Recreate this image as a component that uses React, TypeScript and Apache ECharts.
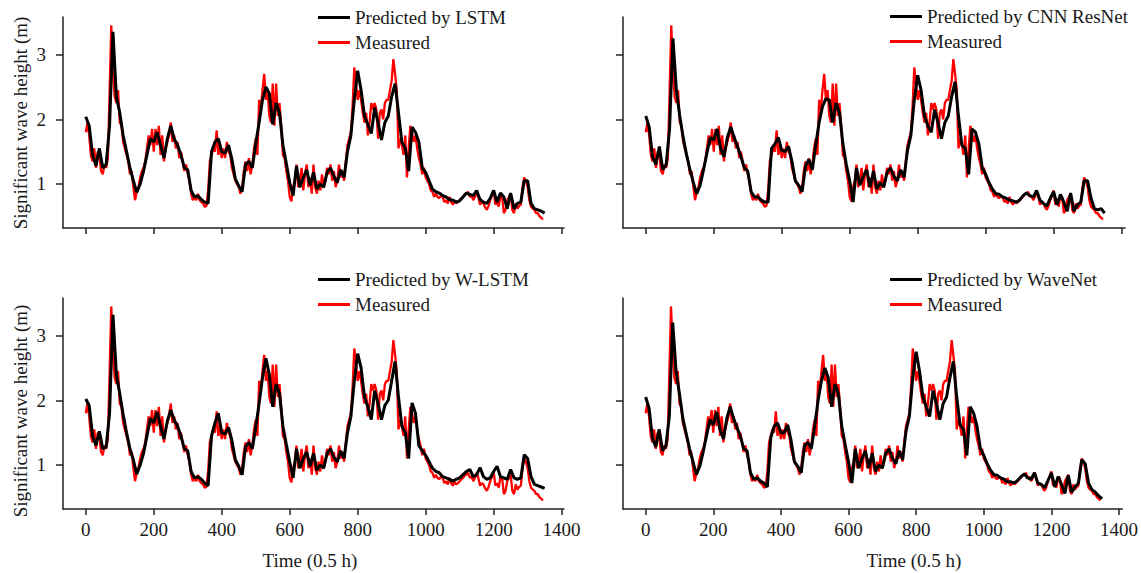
import React, { useEffect, useRef } from "react";
import * as echarts from "echarts";

// Measured significant wave height, sampled every 5 time steps (0.5 h units) from t = 0
const MEASURED_STEP = 5;
const MEASURED = [
  1.80, 1.95, 1.75, 1.45, 1.35, 1.55, 1.25, 1.50, 1.45, 1.20,
  1.15, 1.30, 1.25, 1.40, 2.40, 3.45, 2.80, 2.35, 2.25, 2.45,
  1.95, 1.90, 1.65, 1.55, 1.45, 1.35, 1.15, 1.20, 0.95, 0.75,
  0.88, 0.95, 1.10, 1.20, 1.25, 1.35, 1.55, 1.75, 1.60, 1.85,
  1.50, 1.85, 1.60, 1.90, 1.45, 1.75, 1.35, 1.55, 1.65, 1.75,
  1.95, 1.65, 1.75, 1.55, 1.65, 1.40, 1.50, 1.35, 1.20, 1.30,
  1.15, 1.05, 0.85, 0.75, 0.80, 0.75, 0.85, 0.75, 0.72, 0.70,
  0.65, 0.66, 0.90, 1.35, 1.45, 1.55, 1.50, 1.83, 1.45, 1.60,
  1.40, 1.55, 1.40, 1.65, 1.50, 1.45, 1.25, 1.15, 1.05, 1.00,
  0.95, 0.85, 0.95, 1.20, 1.35, 1.20, 1.40, 1.15, 1.30, 1.55,
  1.70, 1.45, 2.30, 2.15, 2.45, 2.70, 2.30, 2.45, 2.05, 1.95,
  2.55, 1.90, 2.55, 2.05, 2.25, 1.90, 1.45, 1.40, 1.20, 1.05,
  0.80, 0.73, 0.95, 1.05, 1.30, 0.95, 1.05, 1.25, 0.90, 1.15,
  1.30, 0.95, 1.10, 0.85, 1.30, 0.95, 0.85, 1.05, 0.90, 1.15,
  0.95, 1.05, 1.25, 1.15, 1.30, 1.05, 1.20, 0.95, 1.05, 1.30,
  1.10, 1.20, 1.05, 1.35, 1.60, 1.70, 1.80, 2.20, 2.80, 2.55,
  2.30, 2.45, 2.30, 2.10, 1.95, 2.10, 1.75, 1.95, 2.25, 2.15,
  2.25, 2.15, 1.70, 2.10, 2.15, 2.00, 2.25, 2.30, 2.30, 2.45,
  2.60, 2.93, 2.70, 2.45, 1.55, 1.70, 1.60, 1.45, 1.75, 1.10,
  1.55, 1.90, 1.80, 1.65, 1.75, 1.55, 1.40, 1.30, 1.15, 1.25,
  1.10, 1.05, 1.00, 0.90, 0.88, 0.80, 0.85, 0.80, 0.78, 0.82,
  0.80, 0.72, 0.75, 0.70, 0.80, 0.72, 0.68, 0.74, 0.70, 0.72,
  0.75, 0.78, 0.80, 0.84, 0.85, 0.88, 0.80, 0.82, 0.75, 0.80,
  0.88, 0.80, 0.68, 0.72, 0.70, 0.64, 0.60, 0.66, 0.75, 0.82,
  0.90, 0.68, 0.72, 0.65, 0.82, 0.80, 0.55, 0.60, 0.75, 0.80,
  0.85, 0.60, 0.55, 0.70, 0.62, 0.66, 0.68, 0.95, 1.10, 1.05,
  0.95, 0.75, 0.65, 0.62, 0.60, 0.55, 0.55, 0.50, 0.48, 0.45,
];

// Model predictions, sampled every 10 time steps from t = 0
const PRED_STEP = 10;
const LSTM = [
  2.04, 1.90, 1.45, 1.28, 1.55, 1.25, 1.30, 1.90, 3.35, 2.35,
  2.10, 1.75, 1.50, 1.25, 1.05, 0.87, 1.00, 1.20, 1.45, 1.70,
  1.65, 1.80, 1.60, 1.40, 1.70, 1.90, 1.70, 1.60, 1.45, 1.25,
  1.22, 0.90, 0.80, 0.82, 0.76, 0.72, 0.70, 1.50, 1.65, 1.70,
  1.50, 1.48, 1.60, 1.38, 1.08, 0.97, 0.88, 1.30, 1.35, 1.25,
  1.62, 1.95, 2.30, 2.50, 2.40, 1.92, 2.25, 2.10, 1.60, 1.32,
  1.02, 0.82, 1.28, 0.95, 1.10, 1.22, 0.98, 1.18, 0.92, 1.00,
  0.95, 1.18, 1.25, 1.12, 1.02, 1.22, 1.10, 1.50, 1.75, 2.30,
  2.75, 2.45, 2.05, 1.92, 1.78, 2.18, 1.95, 1.68, 1.95, 2.05,
  2.35, 2.55, 2.10, 1.65, 1.55, 1.20, 1.88, 1.80, 1.65, 1.25,
  1.18, 1.05, 0.92, 0.88, 0.86, 0.82, 0.80, 0.76, 0.75, 0.72,
  0.74, 0.80, 0.86, 0.84, 0.82, 0.90, 0.76, 0.72, 0.70, 0.78,
  0.90, 0.72, 0.86, 0.80, 0.62, 0.86, 0.62, 0.70, 0.72, 1.05,
  1.05, 0.70, 0.62, 0.60, 0.58, 0.55,
];
const CNN_RESNET = [
  2.05, 1.88, 1.42, 1.30, 1.58, 1.22, 1.30, 1.85, 3.25, 2.45,
  2.05, 1.72, 1.45, 1.22, 1.02, 0.85, 0.98, 1.22, 1.48, 1.72,
  1.68, 1.85, 1.55, 1.42, 1.72, 1.88, 1.72, 1.58, 1.42, 1.25,
  1.20, 0.88, 0.80, 0.80, 0.75, 0.72, 0.72, 1.55, 1.62, 1.72,
  1.52, 1.50, 1.58, 1.35, 1.05, 0.98, 0.88, 1.28, 1.38, 1.22,
  1.60, 1.95, 2.20, 2.32, 2.30, 1.95, 2.25, 2.10, 1.62, 1.30,
  1.05, 0.72, 1.25, 0.98, 1.12, 1.22, 0.95, 1.20, 0.92, 1.02,
  0.95, 1.18, 1.25, 1.12, 1.05, 1.22, 1.10, 1.52, 1.75, 2.30,
  2.68, 2.45, 2.05, 1.90, 1.80, 2.15, 1.95, 1.70, 1.95, 2.05,
  2.35, 2.58, 2.05, 1.60, 1.55, 1.15, 1.85, 1.80, 1.62, 1.25,
  1.15, 1.02, 0.92, 0.85, 0.84, 0.80, 0.78, 0.75, 0.74, 0.72,
  0.75, 0.82, 0.86, 0.82, 0.80, 0.90, 0.75, 0.70, 0.66, 0.78,
  0.88, 0.68, 0.84, 0.72, 0.58, 0.86, 0.58, 0.68, 0.72, 1.05,
  1.05, 0.78, 0.62, 0.60, 0.62, 0.55,
];
const W_LSTM = [
  2.02, 1.92, 1.45, 1.30, 1.52, 1.25, 1.28, 1.80, 3.32, 2.40,
  2.10, 1.78, 1.50, 1.25, 1.08, 0.86, 1.00, 1.18, 1.45, 1.72,
  1.65, 1.82, 1.60, 1.40, 1.68, 1.85, 1.70, 1.60, 1.45, 1.25,
  1.22, 0.90, 0.80, 0.82, 0.78, 0.72, 0.68, 1.45, 1.65, 1.80,
  1.50, 1.48, 1.58, 1.38, 1.08, 0.98, 0.85, 1.28, 1.35, 1.25,
  1.58, 1.95, 2.35, 2.65, 2.40, 1.90, 2.25, 2.10, 1.60, 1.32,
  1.05, 0.80, 1.25, 0.95, 1.10, 1.20, 0.98, 1.18, 0.92, 1.00,
  0.95, 1.18, 1.25, 1.12, 1.05, 1.22, 1.10, 1.50, 1.75, 2.30,
  2.72, 2.50, 2.05, 1.90, 1.70, 2.15, 1.95, 1.70, 1.92, 2.00,
  2.30, 2.60, 2.05, 1.60, 1.50, 1.10, 1.96, 1.80, 1.30, 1.22,
  1.15, 1.05, 0.95, 0.90, 0.88, 0.82, 0.80, 0.78, 0.75, 0.78,
  0.80, 0.85, 0.90, 0.93, 0.82, 0.85, 0.96, 0.82, 0.78, 0.80,
  0.90, 0.98, 0.82, 0.80, 0.78, 0.93, 0.80, 0.78, 0.80, 1.16,
  1.10, 0.82, 0.70, 0.68, 0.66, 0.64,
];
const WAVENET = [
  2.05, 1.88, 1.42, 1.28, 1.55, 1.22, 1.30, 1.75, 3.20, 2.45,
  2.10, 1.72, 1.48, 1.25, 1.05, 0.85, 0.98, 1.20, 1.45, 1.70,
  1.62, 1.82, 1.55, 1.40, 1.72, 1.90, 1.72, 1.58, 1.45, 1.25,
  1.22, 0.88, 0.78, 0.80, 0.75, 0.72, 0.66, 1.42, 1.60, 1.65,
  1.50, 1.50, 1.62, 1.38, 1.05, 0.98, 0.88, 1.30, 1.35, 1.25,
  1.60, 2.00, 2.30, 2.50, 2.35, 1.90, 2.25, 2.10, 1.60, 1.32,
  1.05, 0.72, 1.25, 0.95, 1.10, 1.22, 0.95, 1.18, 0.90, 1.00,
  0.95, 1.18, 1.25, 1.10, 1.02, 1.22, 1.08, 1.52, 1.75, 2.35,
  2.75, 2.45, 2.05, 1.90, 1.75, 2.15, 1.95, 1.70, 1.95, 2.05,
  2.35, 2.60, 2.05, 1.62, 1.55, 1.15, 1.90, 1.80, 1.60, 1.25,
  1.15, 1.02, 0.92, 0.85, 0.84, 0.80, 0.78, 0.74, 0.74, 0.72,
  0.76, 0.82, 0.86, 0.80, 0.78, 0.88, 0.72, 0.70, 0.65, 0.76,
  0.88, 0.66, 0.82, 0.70, 0.56, 0.84, 0.58, 0.66, 0.72, 1.08,
  1.02, 0.72, 0.62, 0.58, 0.52, 0.48,
];

const PANEL_NAMES = [
  "Predicted by LSTM",
  "Predicted by CNN ResNet",
  "Predicted by W-LSTM",
  "Predicted by WaveNet",
];
const MEASURED_NAME = "Measured";
const X_TICKS = [0, 200, 400, 600, 800, 1000, 1200, 1400];
const Y_TICKS = [1, 2, 3];
const Y_NAME = "Significant wave height (m)";
const X_NAME = "Time (0.5 h)";

const FONT = '"Liberation Serif", "Times New Roman", serif';
const FS = 19;
const TEXT = "#1a1a1a";
const AXIS = "#222";

export default function App() {
  const ref = useRef<HTMLDivElement>(null);
  useEffect(() => {
    if (!ref.current) return;
    const chart = echarts.init(ref.current, null, { renderer: "svg" });
    const preds = [LSTM, CNN_RESNET, W_LSTM, WAVENET];
    const layout = [
      { left: 63, top: 17, width: 501, max: 1407, xl: false, yl: true, lgLeft: 313, lgTop: 3 },
      { left: 623, top: 17, width: 502, max: 1410, xl: false, yl: false, lgLeft: 885, lgTop: 2 },
      { left: 63, top: 298, width: 501, max: 1407, xl: true, yl: true, lgLeft: 313, lgTop: 265 },
      { left: 623, top: 298, width: 502, max: 1410, xl: true, yl: false, lgLeft: 885, lgTop: 265 },
    ];
    const measuredData = MEASURED.map((v, i) => [i * MEASURED_STEP, v]);
    const grid: any[] = [];
    const xAxis: any[] = [];
    const yAxis: any[] = [];
    const series: any[] = [];
    const legend: any[] = [];
    layout.forEach((p, i) => {
      grid.push({ left: p.left, top: p.top, width: p.width, height: 211 });
      xAxis.push({
        type: "value",
        gridIndex: i,
        min: -67,
        max: p.max,
        axisLine: { show: true, onZero: false, lineStyle: { color: AXIS, width: 1.5 } },
        axisTick: { show: true, length: 6, customValues: X_TICKS, lineStyle: { color: AXIS, width: 1.5 } },
        axisLabel: {
          show: p.xl,
          customValues: X_TICKS,
          formatter: (v: number) => String(v),
          margin: 11,
          fontSize: FS,
          fontFamily: FONT,
          color: TEXT,
        },
        splitLine: { show: false },
      });
      yAxis.push({
        type: "value",
        gridIndex: i,
        min: 0.32,
        max: 3.58,
        axisLine: { show: true, onZero: false, lineStyle: { color: AXIS, width: 1.5 } },
        axisTick: { show: true, length: 7, customValues: Y_TICKS, lineStyle: { color: AXIS, width: 1.5 } },
        axisLabel: {
          show: p.yl,
          customValues: Y_TICKS,
          formatter: (v: number) => String(v),
          margin: 17,
          fontSize: FS,
          fontFamily: FONT,
          color: TEXT,
        },
        splitLine: { show: false },
      });
      series.push({
        type: "line",
        name: MEASURED_NAME,
        xAxisIndex: i,
        yAxisIndex: i,
        data: measuredData,
        symbol: "none",
        lineStyle: { color: "#ff0000", width: 2.3 },
        itemStyle: { color: "#ff0000" },
        z: 2,
      });
      series.push({
        type: "line",
        name: PANEL_NAMES[i],
        xAxisIndex: i,
        yAxisIndex: i,
        data: preds[i].map((v, k) => [k * PRED_STEP, v]),
        symbol: "none",
        lineStyle: { color: "#000000", width: 3 },
        itemStyle: { color: "#000000" },
        z: 3,
      });
      legend.push({
        left: p.lgLeft,
        top: p.lgTop,
        orient: "vertical",
        icon: "rect",
        itemWidth: 32,
        itemHeight: 3,
        itemGap: 6,
        selectedMode: false,
        data: [PANEL_NAMES[i], MEASURED_NAME],
        textStyle: { fontSize: FS, lineHeight: 18, fontFamily: FONT, color: TEXT, padding: [0, 0, 0, 0] },
      });
    });
    const nameStyle = (text: string) => ({
      text,
      font: `${FS}px ${FONT}`,
      fill: TEXT,
      textAlign: "center",
      textVerticalAlign: "middle",
    });
    const graphic: any[] = [
      { type: "text", x: 20, y: 123, rotation: Math.PI / 2, style: nameStyle(Y_NAME) },
      { type: "text", x: 20, y: 411, rotation: Math.PI / 2, style: nameStyle(Y_NAME) },
      { type: "text", x: 310, y: 560, style: nameStyle(X_NAME) },
      { type: "text", x: 914, y: 560, style: nameStyle(X_NAME) },
    ];
    chart.setOption({
      animation: false,
      backgroundColor: "#ffffff",
      grid,
      xAxis,
      yAxis,
      series,
      legend,
      graphic,
    });
    return () => chart.dispose();
  }, []);
  return (
    <div
      ref={ref}
      style={{ position: "fixed", left: 0, top: 0, width: 1141, height: 573, background: "#fff" }}
    />
  );
}
